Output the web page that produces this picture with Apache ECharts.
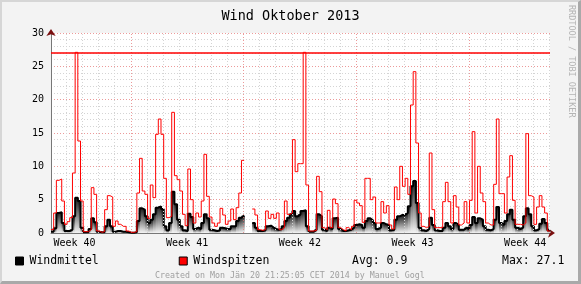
<!DOCTYPE html>
<html><head><meta charset="utf-8">
<script src="https://cdn.jsdelivr.net/npm/echarts@6/dist/echarts.min.js"></script>
<style>
html,body{margin:0;padding:0;background:#f3f3f3;overflow:hidden;}
#c{position:absolute;left:0;top:0;width:581px;height:284px;}
#frame{position:absolute;left:0;top:0;width:581px;height:284px;box-sizing:border-box;border-top:2px solid #d6d6d6;border-left:2px solid #d6d6d6;border-right:3px solid #a9a9a9;border-bottom:3px solid #a9a9a9;pointer-events:none;}
</style></head>
<body>
<div id="c"></div><div id="frame"></div>
<script>
// time: hours since 2013-10-02 00:00, one value per 4 hours
const startHour = 1;
const stepHours = 4;
const windspitzen = [
0.5,3.0,7.9,8.1,4.8,1.3, 1.7,2.3,9.0,27.1,13.8,4.8, 0.2,0.2,0.5,6.8,5.8,0.3,
0.1,0.2,3.5,5.6,5.4,1.0, 1.8,1.3,1.0,1.0,0.3,0.1, 0.1,0.2,6.0,11.2,6.3,5.8,
2.2,7.2,5.3,14.8,17.1,14.8, 8.2,2.3,2.5,18.1,8.6,8.0, 6.3,2.8,1.1,9.6,5.0,1.5,
3.0,2.4,4.8,11.8,5.5,2.4, 1.5,1.0,1.5,3.7,2.7,1.3, 1.8,3.6,2.0,3.8,6.0,10.9,
null,null,null,3.6,2.7,0.5, 0.4,0.5,3.3,2.2,2.8,2.2, 3.0,0.5,0.8,4.8,2.8,3.0,
14.0,9.2,10.4,10.4,27.1,7.2, 0.3,0.3,0.4,8.5,6.2,0.8, 0.5,3.4,0.8,5.1,4.4,0.8,
0.5,0.3,0.8,0.5,1.0,4.9, 4.5,4.1,1.6,8.2,8.2,5.0, 5.4,1.5,1.5,4.7,3.0,4.1,
1.2,0.6,6.9,5.0,10.0,7.0, 8.2,5.8,19.2,24.2,13.5,3.0, 1.0,0.8,1.0,12.0,3.5,0.8,
0.8,0.8,4.7,7.6,4.7,1.5, 5.6,3.9,1.2,1.5,4.7,1.5, 4.9,15.2,3.0,10.0,6.0,4.7,
1.5,1.2,1.2,7.3,17.1,5.9, 5.9,3.0,8.4,11.6,4.9,1.3, 1.3,1.2,1.5,14.9,5.6,5.4,
1.3,3.9,5.6,3.9,3.0,0.3
];
const windmittel = [
0.2,0.7,3.0,3.1,1.5,0.3, 0.3,0.5,2.5,5.3,4.8,0.8, 0.1,0.1,0.6,2.2,1.6,0.2,
0.1,0.1,1.0,2.0,1.0,0.2, 0.3,0.3,0.2,0.2,0.1,0.05, 0.05,0.1,1.8,3.7,3.5,2.5,
1.5,2.0,2.8,3.8,4.0,3.6, 1.0,0.4,1.5,6.2,4.3,2.0, 1.0,0.4,0.3,2.9,2.4,0.6,
0.8,0.6,1.5,2.8,2.2,0.5, 0.4,0.3,0.4,0.8,0.7,0.6, 0.6,1.0,1.0,1.8,2.3,2.6,
null,null,null,1.5,0.8,0.3, 0.3,0.4,1.0,1.1,0.8,0.6, 0.5,0.6,1.0,1.8,2.3,2.8,
3.3,2.5,2.8,3.3,3.4,1.0, 0.2,0.2,0.5,2.8,2.5,0.5, 0.3,0.8,0.6,2.2,2.3,0.6,
0.3,0.3,0.4,0.5,0.8,1.2, 1.3,1.2,0.8,1.8,2.2,1.9, 1.5,0.6,0.8,1.5,1.3,1.2,
0.4,0.5,2.0,2.5,2.7,2.7, 3.0,4.0,7.0,7.8,4.5,0.8, 0.4,0.3,0.6,2.3,1.2,0.4,
0.3,0.3,0.8,1.5,1.0,0.6, 1.5,1.2,0.5,0.5,0.8,0.6, 1.2,2.4,1.5,2.2,2.0,1.0,
0.5,0.4,0.6,2.0,3.9,1.5, 1.2,1.8,2.8,3.5,2.0,0.8, 0.6,0.8,2.5,3.7,2.8,1.0,
0.4,0.6,1.4,2.1,1.5,0.4
];
const weekLabels = ['Week 40','Week 41','Week 42','Week 43','Week 44'];
const weekNumbers = [40,41,42,43,44];
const yTicks = [0,5,10,15,20,25,30];
const titleText = 'Wind Oktober 2013';
const legendNames = ['Windmittel','Windspitzen'];
const avgText = 'Avg: 0.9';
const maxText = 'Max: 27.1';
const creditText = 'Created on Mon J\u00e4n 20 21:25:05 CET 2014 by Manuel Gogl';
const sideText = 'RRDTOOL / TOBI OETIKER';

const MONO = "'DejaVu Sans Mono', monospace";
const xMin = startHour, xMax = startHour + windspitzen.length * stepHours;
const hours = windspitzen.map((_, i) => startHour + i * stepHours);
function withEnd(arr){
  const d = arr.map((v,i)=>[hours[i], v]);
  d.push([xMax, arr[arr.length-1]]);
  return d;
}
const spitzenData = withEnd(windspitzen);
const mittelData = withEnd(windmittel);
const maxVal = Math.max(...windspitzen.filter(v=>v!=null));
// grid positions (hours since 2013-10-02 00:00)
const dayLines = []; for (let h = 24; h <= xMax; h += 24) dayLines.push(h);
const weekLines = [120, 288, 456, 624]; // Mondays 00:00
const weekCenters = weekNumbers.map((w,k)=> 36 + 168*k);

const chart = echarts.init(document.getElementById('c'), null, {renderer:'canvas'});
const shadeFill = new echarts.graphic.LinearGradient(0,0,0,1,[{offset:0,color:'#1a1a1a'},{offset:1,color:'#f4f4f4'}]);

chart.setOption({
  animation:false,
  backgroundColor:'transparent',
  title:{text:titleText,left:'center',top:4,textStyle:{fontFamily:MONO,fontSize:13.5,fontWeight:'normal',color:'#000'}},
  grid:{left:51,right:31,top:33,bottom:51,show:true,backgroundColor:'#fff',borderWidth:0},
  legend:{
    left:15, top:255, padding:0, itemWidth:8, itemHeight:8, itemGap:80, selectedMode:false,
    textStyle:{fontFamily:MONO,fontSize:11.5,color:'#000',padding:[0,0,0,1]},
    data:[
      {name:legendNames[0],icon:'rect',itemStyle:{color:'#000',borderColor:'#000',borderWidth:1}},
      {name:legendNames[1],icon:'rect',itemStyle:{color:'#ff0000',borderColor:'#000',borderWidth:1}}
    ]
  },
  xAxis:[{
    type:'value', min:xMin, max:xMax,
    axisLine:{show:true,lineStyle:{color:'#777',width:1}},
    axisTick:{show:false},
    splitLine:{show:false},
    axisLabel:{show:true,customValues:weekCenters,margin:5,fontFamily:MONO,fontSize:10,color:'#000',
      formatter:(v)=>{const k=weekCenters.indexOf(v);return k>=0?weekLabels[k]:'';}}
  },{
    type:'value', min:xMin, max:xMax, position:'bottom',
    axisLine:{show:true,symbol:['none','arrow'],symbolSize:[7,7],symbolOffset:[0,5],lineStyle:{color:'#7a1010',width:0}},
    axisTick:{show:false},axisLabel:{show:false},splitLine:{show:false}
  }],
  yAxis:[{
    type:'value', min:0, max:30, interval:5,
    axisLine:{show:true,lineStyle:{color:'#777',width:1}},
    axisTick:{show:false},
    axisLabel:{margin:7,fontFamily:MONO,fontSize:10,color:'#000',
      formatter:(v)=> yTicks.includes(v)? String(v):''},
    splitLine:{show:true,lineStyle:{color:'rgba(230,120,120,0.75)',type:[1,2],width:1}},
    minorTick:{show:false,splitNumber:5},
    minorSplitLine:{show:true,lineStyle:{color:'#d4d4d4',type:[1,2],width:1}}
  },{
    type:'value', min:0, max:30, position:'left',
    axisLine:{show:true,symbol:['none','arrow'],symbolSize:[7,7],symbolOffset:[0,4],lineStyle:{color:'#7a1010',width:0}},
    axisTick:{show:false},axisLabel:{show:false},splitLine:{show:false}
  }],
  series:[
    {
      type:'line', name:'grid', data:[], z:1, silent:true,
      markLine:{silent:true,symbol:['none','none'],label:{show:false},animation:false,
        lineStyle:{color:'#d4d4d4',type:[1,2],width:1},
        data:dayLines.filter(h=>!weekLines.includes(h)).map(h=>({xAxis:h}))}
    },
    {
      type:'line', name:'grid2', data:[], z:1, silent:true,
      markLine:{silent:true,symbol:['none','none'],label:{show:false},animation:false,
        lineStyle:{color:'rgba(230,120,120,0.75)',type:[1,2],width:1},
        data:weekLines.map(h=>({xAxis:h}))}
    },
    {
      type:'custom', name:legendNames[0], z:3, silent:true,
      data: windmittel.map((v,i)=>[hours[i], v]),
      renderItem:(params, api)=>{
        const v = api.value(1);
        if (v == null || isNaN(v)) return null;
        const t = api.value(0);
        const p1 = api.coord([t, v]);
        const p2 = api.coord([t + stepHours, 0]);
        return {type:'rect', shape:{x:p1[0], y:p1[1], width:p2[0]-p1[0]+0.6, height:p2[1]-p1[1]},
          style:{fill:shadeFill}};
      }
    },
    {
      type:'line', name:legendNames[0], data:mittelData, step:'end', z:4,
      showSymbol:false, connectNulls:false, color:'#000',
      lineStyle:{color:'#000',width:2}
    },
    {
      type:'line', name:legendNames[1], data:spitzenData, step:'end', z:5,
      showSymbol:false, connectNulls:false, color:'#ff0000',
      lineStyle:{color:'#ff0000',width:1},
      markLine:{silent:true,symbol:['none','none'],label:{show:false},animation:false,
        lineStyle:{color:'#ff0000',width:1.6,type:'solid'},
        data:[{yAxis:maxVal}]}
    }
  ],
  graphic:[
    {type:'text',left:352,top:255,style:{text:avgText,font:'11.5px '+MONO,fill:'#000'}},
    {type:'text',left:502,top:255,style:{text:maxText,font:'11.5px '+MONO,fill:'#000'}},
    {type:'text',left:155,top:272,style:{text:creditText,font:'8.3px '+MONO,fill:'#a0a0a0'}},
    {type:'text',x:576,y:5,rotation:-Math.PI/2,style:{text:sideText,font:'8.5px '+MONO,fill:'#b4b4b4',textAlign:'left',textVerticalAlign:'top'}}
  ]
});
</script>
</body></html>
